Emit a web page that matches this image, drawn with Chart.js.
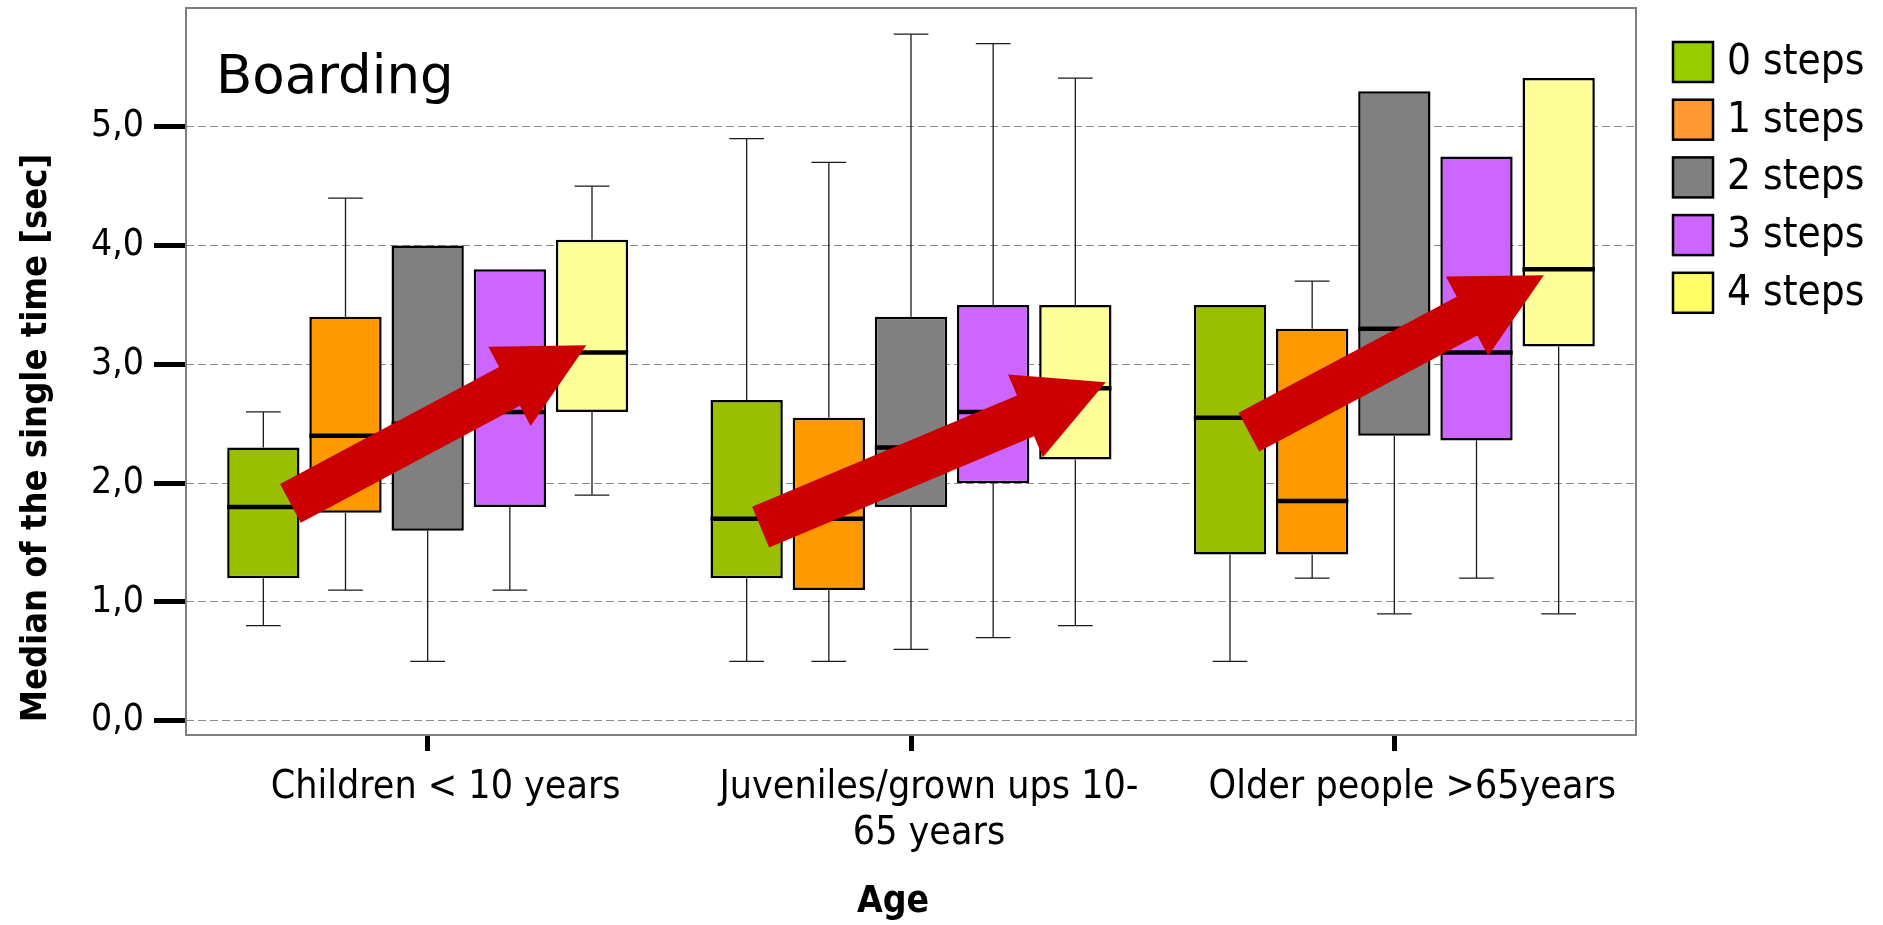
<!DOCTYPE html>
<html>
<head>
<meta charset="utf-8">
<title>Boarding</title>
<script src="https://cdn.jsdelivr.net/npm/chart.js@4.4.1/dist/chart.umd.min.js"></script>
<style>
  html, body { margin: 0; padding: 0; background: #fff; }
  #wrap { position: relative; width: 1883px; height: 925px; }
</style>
</head>
<body>
<div id="wrap"><canvas id="chart"></canvas></div>
<script>
// age groups (x categories) and step series
const ageGroups = ['Children < 10 years', ['Juveniles/grown ups 10-', '65 years'], 'Older people >65years'];
const stepLabels = ['0 steps', '1 steps', '2 steps', '3 steps', '4 steps'];

// box plot statistics, [step series][age group], seconds
const whiskerLow  = [[0.8, 0.5, 0.5], [1.1, 0.5, 1.2], [0.5, 0.6, 0.9], [1.1, 0.7, 1.2], [1.9, 0.8, 0.9]];
const quartile1   = [[1.2, 1.2, 1.4], [1.75, 1.1, 1.4], [1.6, 1.8, 2.4], [1.8, 2.0, 2.36], [2.6, 2.2, 3.15]];
const medians     = [[1.8, 1.7, 2.55], [2.4, 1.7, 1.85], [2.5, 2.3, 3.3], [2.6, 2.6, 3.1], [3.1, 2.8, 3.8]];
const quartile3   = [[2.3, 2.7, 3.5], [3.4, 2.55, 3.3], [4.0, 3.4, 5.3], [3.8, 3.5, 4.75], [4.05, 3.5, 5.41]];
const whiskerHigh = [[2.6, 4.9, 3.5], [4.4, 4.7, 3.7], [4.0, 5.78, 5.3], [3.8, 5.7, 4.75], [4.5, 5.41, 5.41]];

const yTickValues = [0, 1, 2, 3, 4, 5];

// trend arrows per age group: [position in series slots (0 = 0 steps), value]
const arrowTail = [[0.33, 1.83], [0.17, 1.63], [0.23, 2.43]];
const arrowTip  = [[3.93, 3.16], [4.37, 2.85], [3.82, 3.75]];

const boxColors = ['#99BF00', '#FF9900', '#808080', '#CC66FF', '#FFFF99'];
const legendColors = ['#99CC00', '#FF9933', '#808080', '#CC66FF', '#FFFF66'];
const COND = "'DejaVu Sans Condensed', 'DejaVu Sans', sans-serif";

function line(ctx, x1, y1, x2, y2) {
  ctx.beginPath(); ctx.moveTo(x1, y1); ctx.lineTo(x2, y2); ctx.stroke();
}

const boxExtras = {
  id: 'boxExtras',
  beforeDatasetsDraw(chart) {
    const ctx = chart.ctx, y = chart.scales.y;
    ctx.save();
    ctx.strokeStyle = '#1a1a1a';
    ctx.lineWidth = 1.3;
    chart.data.datasets.forEach((ds, i) => {
      chart.getDatasetMeta(i).data.forEach((bar, g) => {
        const cap = bar.width * 0.24;
        if (whiskerLow[i][g] < quartile1[i][g]) {
          const lo = y.getPixelForValue(whiskerLow[i][g]);
          line(ctx, bar.x, y.getPixelForValue(quartile1[i][g]), bar.x, lo);
          line(ctx, bar.x - cap, lo, bar.x + cap, lo);
        }
        if (whiskerHigh[i][g] > quartile3[i][g]) {
          const hi = y.getPixelForValue(whiskerHigh[i][g]);
          line(ctx, bar.x, y.getPixelForValue(quartile3[i][g]), bar.x, hi);
          line(ctx, bar.x - cap, hi, bar.x + cap, hi);
        }
      });
    });
    ctx.restore();
  },
  afterDatasetsDraw(chart) {
    const ctx = chart.ctx, y = chart.scales.y;
    ctx.save();
    // medians
    ctx.strokeStyle = '#000';
    ctx.lineWidth = 4.5;
    chart.data.datasets.forEach((ds, i) => {
      chart.getDatasetMeta(i).data.forEach((bar, g) => {
        const py = y.getPixelForValue(medians[i][g]);
        line(ctx, bar.x - bar.width / 2, py, bar.x + bar.width / 2, py);
      });
    });
    // trend arrows
    const first = chart.getDatasetMeta(0).data, second = chart.getDatasetMeta(1).data;
    ctx.fillStyle = '#CC0000';
    ageGroups.forEach((lab, g) => {
      const pitch = second[g].x - first[g].x;
      const tx = first[g].x + arrowTail[g][0] * pitch, ty = y.getPixelForValue(arrowTail[g][1]);
      const hx = first[g].x + arrowTip[g][0] * pitch, hy = y.getPixelForValue(arrowTip[g][1]);
      const len = Math.hypot(hx - tx, hy - ty);
      const ux = (hx - tx) / len, uy = (hy - ty) / len, nx = -uy, ny = ux;
      const sw = 22, hw = 45, hl = 87;
      const kx = hx - ux * hl, ky = hy - uy * hl;
      ctx.beginPath();
      ctx.moveTo(tx + nx * sw, ty + ny * sw);
      ctx.lineTo(kx + nx * sw, ky + ny * sw);
      ctx.lineTo(kx + nx * hw, ky + ny * hw);
      ctx.lineTo(hx, hy);
      ctx.lineTo(kx - nx * hw, ky - ny * hw);
      ctx.lineTo(kx - nx * sw, ky - ny * sw);
      ctx.lineTo(tx - nx * sw, ty - ny * sw);
      ctx.closePath();
      ctx.fill();
    });
    ctx.restore();
  },
  afterDraw(chart) {
    const ctx = chart.ctx, a = chart.chartArea;
    ctx.save();
    // plot frame
    ctx.strokeStyle = '#7f7f7f';
    ctx.lineWidth = 2;
    ctx.strokeRect(a.left, a.top, a.right - a.left, a.bottom - a.top);
    // panel title
    ctx.fillStyle = '#000';
    ctx.font = "53px 'DejaVu Sans', sans-serif";
    ctx.textAlign = 'left';
    ctx.textBaseline = 'alphabetic';
    ctx.fillText('Boarding', 216, 93);
    // axis titles
    ctx.font = 'bold 37px ' + COND;
    ctx.textAlign = 'center';
    ctx.fillText('Age', 893, 912);
    ctx.save();
    ctx.translate(37, 438);
    ctx.rotate(-Math.PI / 2);
    ctx.font = 'bold 36px ' + COND;
    ctx.textBaseline = 'middle';
    ctx.fillText('Median of the single time [sec]', 0, 0);
    ctx.restore();
    // legend
    ctx.font = '42px ' + COND;
    ctx.textAlign = 'left';
    ctx.textBaseline = 'middle';
    stepLabels.forEach((lab, i) => {
      const cy = 62 + i * 57.7;
      ctx.fillStyle = legendColors[i];
      ctx.fillRect(1673, cy - 20, 40, 40);
      ctx.strokeStyle = '#000';
      ctx.lineWidth = 2.5;
      ctx.strokeRect(1673, cy - 20, 40, 40);
      ctx.fillStyle = '#000';
      ctx.fillText(lab, 1727, cy + 1);
    });
    ctx.restore();
  }
};

const datasets = stepLabels.map((lab, i) => ({
  label: lab,
  data: quartile1[i].map((q, g) => [q, quartile3[i][g]]),
  backgroundColor: boxColors[i],
  borderColor: '#000',
  borderWidth: 2.5,
  borderSkipped: false,
  categoryPercentage: 0.85,
  barPercentage: 0.88
}));

new Chart(document.getElementById('chart'), {
  type: 'bar',
  data: { labels: ageGroups, datasets: datasets },
  options: {
    responsive: true,
    maintainAspectRatio: false,
    animation: false,
    layout: { padding: { top: 8, right: 247, left: 0, bottom: 0 } },
    plugins: { legend: { display: false }, tooltip: { enabled: false } },
    scales: {
      x: {
        afterFit: (s) => { s.height = 190; s.paddingLeft = 0; s.paddingRight = 0; },
        grid: { drawOnChartArea: false, drawTicks: true, offset: false, tickLength: 16, tickWidth: 5, tickColor: '#000', tickBorderDash: [] },
        border: { display: false },
        ticks: { color: '#000', font: { family: COND, size: 39 }, padding: 13, maxRotation: 0, minRotation: 0, autoSkip: false, labelOffset: 18 }
      },
      y: {
        min: -0.12,
        max: 6.0,
        afterFit: (s) => { s.width = 186; s.paddingTop = 0; s.paddingBottom = 0; },
        afterBuildTicks: (s) => { s.ticks = yTickValues.map(v => ({ value: v })); },
        grid: { color: '#8c8c8c', lineWidth: 1, drawTicks: true, tickLength: 32, tickWidth: 5, tickColor: '#000', tickBorderDash: [] },
        border: { display: false, dash: [8, 4] },
        ticks: { color: '#000', font: { family: COND, size: 37 }, padding: 10,
                 callback: (v) => v.toFixed(1).replace('.', ',') }
      }
    }
  },
  plugins: [boxExtras]
});
</script>
</body>
</html>
